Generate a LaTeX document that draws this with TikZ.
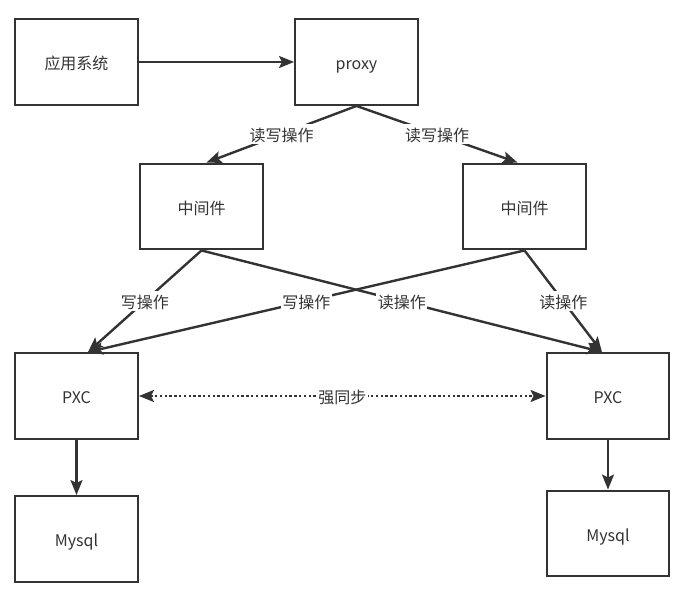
\documentclass[tikz,border=0pt]{standalone}
\usepackage{fontspec}
\setmainfont{Noto Sans CJK SC}
\usepackage{tikz}
\usetikzlibrary{calc, positioning, arrows.meta}
\definecolor{linegray}{HTML}{333333}

\begin{document}
\begin{tikzpicture}[x=1pt, y=-1pt, font=\fontsize{16pt}{19pt}\selectfont,
	box/.style={draw=linegray, line width=2.4pt, minimum width=122.5pt, minimum height=85.5pt,
		text=linegray, text height=16pt, text depth=0pt},
	l_2/.style={draw=linegray, line width=2.4pt},
	>={Stealth[length=15pt,width=12pt,inset=3pt]},
	lab/.style={fill=white, text=linegray, inner sep=1.5pt, text height=16pt, text depth=1pt}]
	\useasboundingbox (0,0) rectangle (686,593);
	% boxes
	\foreach \n/\x/\y/\t in {app/76.5/62/应用系统, proxy/356.5/62/proxy,
		midL/201.5/206.5/中间件, midR/524.5/206.5/中间件,
		pxcL/76.5/396/PXC, pxcR/608/396/PXC,
		sqlL/76.5/539/Mysql, sqlR/608/533.5/Mysql} {
		\node[box] (\n) at (\x,\y) {\t};
	};
	\draw[l_2, ->] (app) -- (proxy);
	\draw[l_2, ->] (proxy.south) -- node[lab] {读写操作} ([xshift=5pt]midL.north);
	\draw[l_2, ->] (proxy.south) -- node[lab] {读写操作} ([xshift=-7pt]midR.north);
	% crossing lines
	\draw[l_2, ->] (midL.south) -- node[lab] {写操作} ([xshift=11.5pt]pxcL.north);
	\draw[l_2, ->] (midL.south) -- node[lab] {读操作} ([xshift=-6pt]pxcR.north);
	\draw[l_2, ->] (midR.south) -- node[lab] {写操作} ([xshift=11.5pt]pxcL.north);
	\draw[l_2, ->] (midR.south) -- node[lab] {读操作} ([xshift=-6pt]pxcR.north);
	\draw[l_2, <->, dash pattern=on 2.4pt off 2.4pt] (pxcL) -- node[lab] {强同步} (pxcR);
	\draw[l_2, ->] (pxcL) -- (sqlL);
	\draw[l_2, ->] (pxcR) -- (sqlR);
\end{tikzpicture}
\end{document}
